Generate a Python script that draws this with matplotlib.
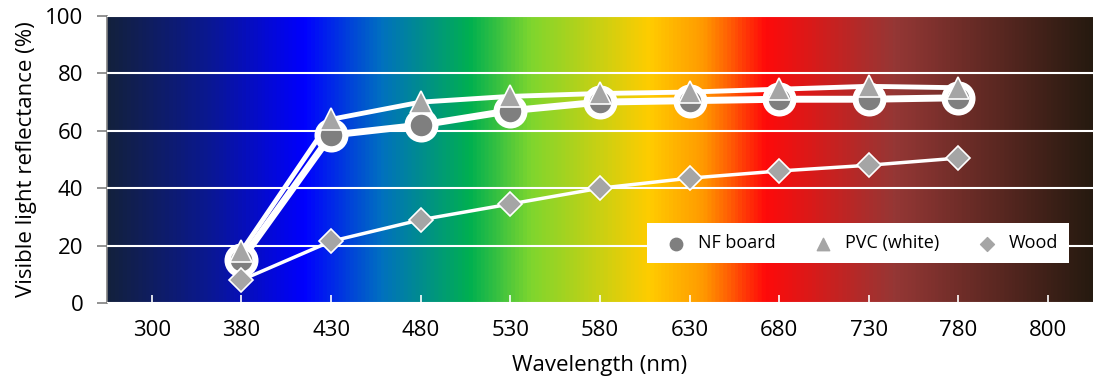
import matplotlib.pyplot as plt
import numpy as np
from matplotlib.colors import LinearSegmentedColormap

# Categories on the x axis (evenly spaced, like a category axis)
wavelengths = ["300", "380", "430", "480", "530", "580", "630", "680", "730", "780", "800"]
data_labels = ["380", "430", "480", "530", "580", "630", "680", "730", "780"]

nf_board = [15, 58.5, 62, 67, 70, 70.5, 71, 71, 71.5]
pvc_white = [18, 64, 70, 72, 73, 73.5, 74.5, 75.5, 75]
wood = [8, 21.5, 29, 34.5, 40, 43.5, 46, 48, 50.5]

plt.rcParams['font.family'] = ['Open Sans', 'DejaVu Sans']

fig = plt.figure(figsize=(10.94, 3.81), dpi=100)
ax = fig.add_axes([0.0978, 0.2047, 0.9012, 0.7533])

# Spectrum background
spectrum = LinearSegmentedColormap.from_list("spectrum", [
    (0.0, "#13213d"),
    (0.10, "#0a1890"),
    (0.199, "#0000ff"),
    (0.277, "#0070c0"),
    (0.368, "#00b050"),
    (0.43, "#7fd62e"),
    (0.55, "#ffcc00"),
    (0.606, "#ff9900"),
    (0.668, "#ff0a0a"),
    (0.80, "#953735"),
    (1.0, "#261a10"),
])
grad = np.linspace(0, 1, 1000).reshape(1, -1)
ax.imshow(grad, cmap=spectrum, aspect="auto", extent=[0, 1, 0, 1],
          transform=ax.transAxes, zorder=0, interpolation="bilinear")

idx = {w: i for i, w in enumerate(wavelengths)}
xs = [idx[w] for w in data_labels]

ax.plot(xs, pvc_white, color="white", lw=3.5, zorder=3)
ax.plot(xs, nf_board, color="white", lw=5, zorder=3)
ax.plot(xs, wood, color="white", lw=2.5, zorder=3)

ax.plot(xs, nf_board, ls="none", marker="o", ms=20, mfc="#7f7f7f", mec="white", mew=4.5, zorder=4)
ax.plot(xs, pvc_white, ls="none", marker="^", ms=16, mfc="#a5a5a5", mec="white", mew=1.2, zorder=5)
ax.plot(xs, wood, ls="none", marker="D", ms=12.5, mfc="#a5a5a5", mec="white", mew=1.2, zorder=5)

# Legend proxies
h1 = ax.scatter([], [], marker="o", s=80, c="#7f7f7f")
h2 = ax.scatter([], [], marker="^", s=80, c="#a5a5a5")
h3 = ax.scatter([], [], marker="D", s=50, c="#a5a5a5")
leg = ax.legend([h1, h2, h3], ["NF board", "PVC (white)", "Wood"], ncol=3,
                loc="lower left", bbox_to_anchor=(0.548, 0.139, 0.428, 0.14), mode="expand",
                borderaxespad=0, fancybox=False, framealpha=1, edgecolor="white", fontsize=13,
                handletextpad=0.2, borderpad=0.6, columnspacing=1.0)
leg.get_frame().set_linewidth(0)
leg.set_zorder(6)

ax.set_xlim(-0.5, len(wavelengths) - 0.5)
ax.set_ylim(0, 100)
ax.set_xticks(range(len(wavelengths)))
ax.set_xticklabels(wavelengths)
ax.set_yticks([0, 20, 40, 60, 80, 100])
ax.yaxis.grid(True, color="white", lw=1.5, zorder=1)
ax.set_axisbelow(False)
for gl in ax.get_ygridlines():
    gl.set_zorder(1)

ax.tick_params(axis="x", direction="in", colors="white", length=6, width=1.2,
               labelcolor="black", labelsize=16, pad=12)
ax.tick_params(axis="y", direction="out", colors="#808080", length=7, width=1.2,
               labelcolor="black", labelsize=16, pad=10)
for s in ["top", "right", "bottom"]:
    ax.spines[s].set_visible(False)
ax.spines["left"].set_color("#808080")
ax.spines["left"].set_linewidth(1.2)

ax.set_xlabel("Wavelength (nm)", fontsize=16, labelpad=10)
ax.set_ylabel("Visible light reflectance (%)", fontsize=16, labelpad=6)

fig.savefig("out.png", dpi=100)
